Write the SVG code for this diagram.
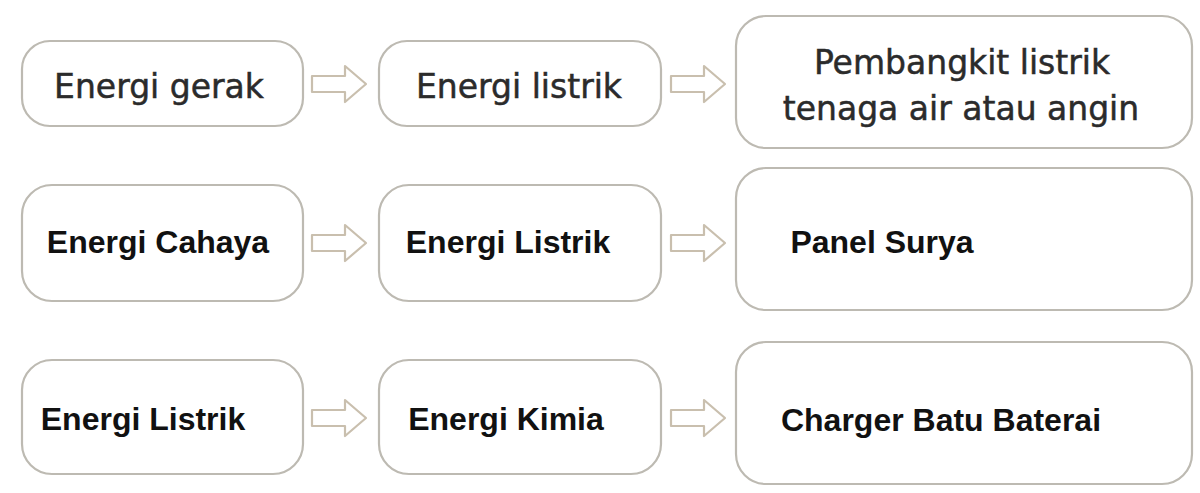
<svg xmlns="http://www.w3.org/2000/svg" width="1200" height="493" viewBox="0 0 1200 493">
<defs>
<style>
.box{fill:#fff;stroke:#bdbab2;stroke-width:2.2}
.r{font-family:"DejaVu Sans",sans-serif;font-size:33px;fill:#2b2b2b;stroke:#2b2b2b;stroke-width:0.5;text-anchor:middle}
.b{font-family:"Liberation Sans",Arial,sans-serif;font-weight:bold;font-size:32px;fill:#111;text-anchor:middle}
.arr{fill:#fff;stroke:#c9bfae;stroke-width:2.2;stroke-linejoin:round}
</style>
<path id="ar" d="M0,-8 H33 V-18 L54,0 L33,18 V8 H0 Z"/>
</defs>
<rect width="1200" height="493" fill="#fff"/>
<g id="connectors">
<use href="#ar" class="arr" x="312" y="84"/>
<use href="#ar" class="arr" x="671" y="84"/>
<use href="#ar" class="arr" x="312" y="243"/>
<use href="#ar" class="arr" x="671" y="243"/>
<use href="#ar" class="arr" x="312" y="418"/>
<use href="#ar" class="arr" x="671" y="418"/>
</g>
<g id="n1"><rect class="box" x="22" y="41" width="281" height="85" rx="28"/><text class="r" x="159" y="98">Energi gerak</text></g>
<g id="n2"><rect class="box" x="379" y="41" width="282" height="85" rx="28"/><text class="r" x="519" y="98">Energi listrik</text></g>
<g id="n3"><rect class="box" x="736" y="16" width="456" height="132" rx="30"/><text class="r" x="962" y="74">Pembangkit listrik</text><text class="r" x="961" y="120">tenaga air atau angin</text></g>
<g id="n4"><rect class="box" x="22" y="185" width="281" height="116" rx="30"/><text class="b" x="158" y="253">Energi Cahaya</text></g>
<g id="n5"><rect class="box" x="379" y="185" width="282" height="116" rx="30"/><text class="b" x="508" y="253">Energi Listrik</text></g>
<g id="n6"><rect class="box" x="736" y="168" width="456" height="142" rx="30"/><text class="b" x="882" y="253">Panel Surya</text></g>
<g id="n7"><rect class="box" x="22" y="360" width="281" height="114" rx="30"/><text class="b" x="143" y="430">Energi Listrik</text></g>
<g id="n8"><rect class="box" x="379" y="360" width="282" height="114" rx="30"/><text class="b" x="506" y="430">Energi Kimia</text></g>
<g id="n9"><rect class="box" x="736" y="342" width="456" height="142" rx="30"/><text class="b" x="941" y="431">Charger Batu Baterai</text></g>
</svg>
